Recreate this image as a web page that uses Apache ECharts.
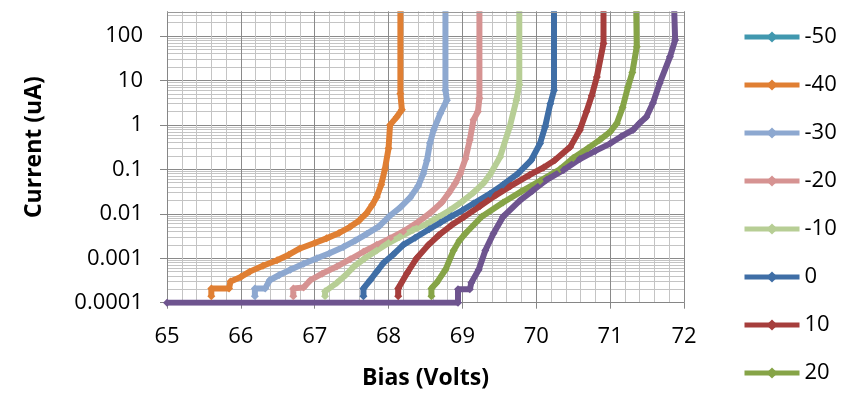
<!DOCTYPE html>
<html>
<head>
<meta charset="utf-8">
<script src="https://cdn.jsdelivr.net/npm/echarts@6/dist/echarts.min.js"></script>
<style>
  html, body { margin: 0; padding: 0; background: #fff; overflow: hidden; }
  body { width: 844px; height: 396px; position: relative; }
  /* chart canvas extends 20px above the window so the log axis can run to 1000 */
  #chart { position: absolute; left: 0; top: -20px; width: 844px; height: 416px; }
</style>
</head>
<body>
<div id="chart"></div>
<script>
// ---- Data (Bias in Volts, Current in uA) ----
const seriesNames = ['-50', '-40', '-30', '-20', '-10', '0', '10', '20', '30'];
const legendNames = ['-50', '-40', '-30', '-20', '-10', '0', '10', '20'];
const xTicks = [65, 66, 67, 68, 69, 70, 71, 72];
const yTickLabels = ['0.0001', '0.001', '0.01', '0.1', '1', '10', '100'];
const yVisibleTop = 350;   // top of the visible plot area (uA)

const curveM50 = [];
const curveM40 = [[65.60,0.00014],[65.60,0.00021],[65.84,0.00021],[65.86,0.0003],[66.0,0.00038],[66.12,0.0005],[66.3,0.00068],[66.49,0.0009],[66.65,0.0012],[66.80,0.00166],[67.0,0.0022],[67.16,0.0028],[67.33,0.0037],[67.48,0.0051],[67.6,0.007],[67.70,0.0102],[67.78,0.016],[67.84,0.024],[67.90,0.045],[67.95,0.1],[68.0,0.3],[68.02,1.0],[68.11,1.5],[68.18,2.2],[68.16,5],[68.16,1000]];
const curveM30 = [[66.19,0.00014],[66.19,0.00021],[66.33,0.00021],[66.39,0.00032],[66.52,0.00042],[66.67,0.00055],[66.85,0.00075],[67.03,0.001],[67.2,0.0013],[67.39,0.0018],[67.55,0.0025],[67.70,0.0035],[67.87,0.0052],[68.01,0.0088],[68.16,0.014],[68.29,0.023],[68.40,0.042],[68.47,0.08],[68.52,0.16],[68.56,0.39],[68.61,0.77],[68.70,1.8],[68.79,3.6],[68.77,6],[68.77,1000]];
const curveM20 = [[66.71,0.00014],[66.71,0.00021],[66.85,0.00022],[66.94,0.00032],[67.1,0.00045],[67.30,0.00065],[67.48,0.00095],[67.66,0.0014],[67.84,0.002],[68.02,0.0028],[68.2,0.004],[68.40,0.0065],[68.58,0.011],[68.72,0.018],[68.82,0.03],[68.90,0.048],[68.97,0.08],[69.04,0.17],[69.10,0.46],[69.15,1.3],[69.21,2.0],[69.23,4],[69.23,1000]];
const curveM10 = [[67.14,0.00014],[67.14,0.00018],[67.30,0.00028],[67.42,0.00042],[67.53,0.00065],[67.68,0.001],[67.84,0.0015],[68.0,0.0022],[68.15,0.003],[68.33,0.0043],[68.52,0.006],[68.68,0.0085],[68.83,0.012],[69.0,0.019],[69.15,0.03],[69.29,0.05],[69.37,0.075],[69.51,0.19],[69.64,0.9],[69.73,3.6],[69.77,8],[69.77,1000]];
const curveP0 = [[67.66,0.00014],[67.66,0.00021],[67.75,0.00032],[67.84,0.0005],[67.93,0.00078],[68.06,0.0012],[68.20,0.002],[68.36,0.0029],[68.55,0.0045],[68.70,0.0063],[68.85,0.0088],[69.0,0.012],[69.15,0.017],[69.37,0.028],[69.55,0.045],[69.75,0.08],[69.93,0.16],[70.05,0.38],[70.12,0.91],[70.19,3.0],[70.24,6],[70.24,1000]];
const curveP10 = [[68.13,0.00014],[68.13,0.00021],[68.25,0.00046],[68.38,0.001],[68.54,0.002],[68.68,0.0033],[68.85,0.0055],[69.02,0.0085],[69.24,0.015],[69.45,0.026],[69.65,0.042],[69.91,0.075],[70.1,0.11],[70.25,0.16],[70.46,0.32],[70.59,0.77],[70.68,2.0],[70.75,4.5],[70.82,12],[70.91,68],[70.91,1000]];
const curveP20 = [[68.58,0.00014],[68.58,0.00021],[68.65,0.00028],[68.77,0.00055],[68.88,0.0015],[68.96,0.0025],[69.04,0.0036],[69.26,0.0086],[69.55,0.018],[69.8,0.032],[70.05,0.055],[70.32,0.1],[70.50,0.18],[70.70,0.3],[70.86,0.46],[71.0,0.7],[71.09,1.08],[71.17,2.5],[71.24,7],[71.30,15],[71.36,57],[71.35,1000]];
const curveP30 = [[65.0,0.0001],[68.94,0.0001],[68.94,0.0002],[69.10,0.0002],[69.12,0.00028],[69.22,0.00055],[69.31,0.0015],[69.42,0.0036],[69.55,0.0086],[69.78,0.020],[69.95,0.033],[70.14,0.058],[70.37,0.097],[70.59,0.17],[70.8,0.26],[71.0,0.38],[71.15,0.55],[71.31,0.77],[71.40,1.1],[71.49,1.5],[71.58,3.1],[71.67,8.6],[71.81,34],[71.88,81],[71.86,1000]];

const curves = [curveM50, curveM40, curveM30, curveM20, curveM10, curveP0, curveP10, curveP20, curveP30];
const colors = ['#4198AF', '#E07F33', '#8DA8D0', '#D69392', '#B7CE95', '#3F6EA6', '#A63E3C', '#86A447', '#6E548F'];

const chart = echarts.init(document.getElementById('chart'), null, { renderer: 'canvas' });
const FONT = 'Open Sans';

const option = {
  animation: false,
  color: colors,
  textStyle: { fontFamily: FONT },
  grid: { left: 167, right: 160, top: 11.55, bottom: 93.3, containLabel: false },
  legend: {
    data: legendNames,
    orient: 'vertical',
    left: 737,
    top: 40,
    itemWidth: 55,
    itemHeight: 14,
    itemGap: 24,
    lineStyle: { width: 5 },
    textStyle: { fontFamily: FONT, fontSize: 22, color: '#000', lineHeight: 24 }
  },
  xAxis: {
    type: 'value',
    min: xTicks[0],
    max: xTicks[xTicks.length - 1],
    interval: 1,
    name: 'Bias (Volts)',
    nameLocation: 'middle',
    nameGap: 64,
    nameTextStyle: { fontFamily: FONT, fontSize: 23, fontWeight: 'bold', color: '#000' },
    axisLine: { lineStyle: { color: '#868686', width: 1 } },
    axisTick: { show: true, length: 6, lineStyle: { color: '#868686' } },
    axisLabel: { color: '#000', fontSize: 22, fontFamily: FONT, margin: 23 },
    splitLine: { show: true, lineStyle: { color: '#8a8a8a', width: 1 } },
    minorTick: { show: false, splitNumber: 5 },
    minorSplitLine: { show: true, lineStyle: { color: '#c4c4c4', width: 1 } }
  },
  yAxis: {
    type: 'log',
    logBase: 10,
    min: 0.0001,
    max: 1000,
    name: 'Current (uA)',
    nameLocation: 'middle',
    nameGap: 121,
    nameTextStyle: { fontFamily: FONT, fontSize: 23, fontWeight: 'bold', color: '#000' },
    axisLine: { show: true, lineStyle: { color: '#868686', width: 1 } },
    axisTick: { show: true, length: 7, lineStyle: { color: '#868686' } },
    axisLabel: {
      color: '#000', fontSize: 22, fontFamily: FONT, margin: 24,
      showMaxLabel: false,
      formatter: function (v) {
        const s = String(+Number(v).toPrecision(6));
        return yTickLabels.indexOf(s) >= 0 ? s : '';
      }
    },
    splitLine: { show: true, lineStyle: { color: '#8a8a8a', width: 1 } },
    minorTick: { show: false, splitNumber: 9 },
    minorSplitLine: { show: true, lineStyle: { color: '#c4c4c4', width: 1 } }
  },
  series: seriesNames.map(function (name, i) {
    return {
      name: name,
      type: 'line',
      data: curves[i],
      clip: true,
      symbol: 'diamond',
      symbolSize: 8,
      showSymbol: true,
      lineStyle: { width: 6, color: colors[i] },
      itemStyle: { color: colors[i] },
      emphasis: { disabled: true }
    };
  })
};
chart.setOption(option);

// Mask everything above the visible top of the plot (position derived from the axis scale)
const yTopPx = chart.convertToPixel({ yAxisIndex: 0 }, yVisibleTop);
const xLeftPx = chart.convertToPixel({ xAxisIndex: 0 }, xTicks[0]);
const xRightPx = chart.convertToPixel({ xAxisIndex: 0 }, xTicks[xTicks.length - 1]);
chart.setOption({
  graphic: [
    { type: 'rect', z: 100, silent: true,
      shape: { x: xLeftPx - 20, y: -5, width: (xRightPx - xLeftPx) + 40, height: yTopPx + 5 - 0.5 },
      style: { fill: '#ffffff' } },
    { type: 'line', z: 101, silent: true,
      shape: { x1: xLeftPx, y1: Math.round(yTopPx) + 0.5, x2: xRightPx, y2: Math.round(yTopPx) + 0.5 },
      style: { stroke: '#9a9a9a', lineWidth: 1 } }
  ]
});
</script>
</body>
</html>
